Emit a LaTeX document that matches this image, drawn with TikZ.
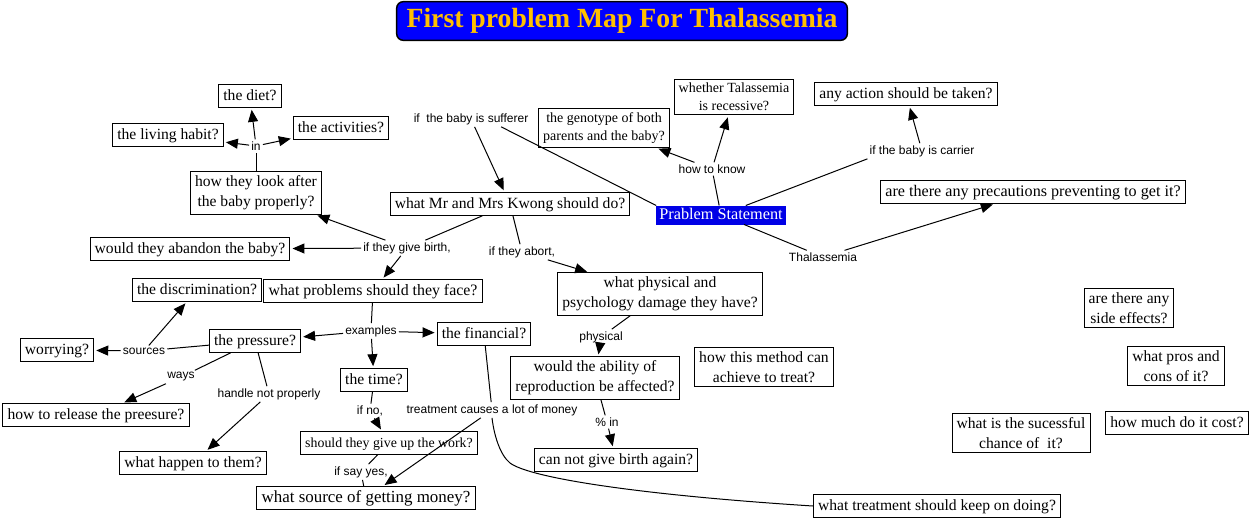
\documentclass[tikz,border=0pt]{standalone}
\usepackage{fontspec}
\setmainfont{Liberation Serif}
\newfontfamily\lblfont{Liberation Sans}
\usetikzlibrary{arrows.meta}
\definecolor{titlegold}{RGB}{255,192,0}
\definecolor{titleblue}{RGB}{0,0,255}
\definecolor{probblue}{RGB}{0,0,230}
\begin{document}
\begin{tikzpicture}[x=0.75pt,y=-0.75pt,
  concept/.style={draw=black, line width=0.75pt, fill=white, inner xsep=3.5pt, inner ysep=2.5pt,
    text height=9pt, text depth=3pt, font=\fontsize{11.7}{14}\selectfont},
  multi/.style={draw=black, line width=0.75pt, fill=white, inner xsep=3.5pt, inner ysep=3pt,
    align=center, font=\fontsize{11.7}{15}\selectfont},
  smallmulti/.style={multi, font=\fontsize{10.5}{13.5}\selectfont},
  phrase/.style={inner sep=1.5pt, font=\lblfont\fontsize{9}{10}\selectfont},
  link/.style={line width=0.75pt},
  arr/.style={line width=0.75pt, -{Triangle[length=9pt,width=7.5pt]}, shorten >=1.5pt},
]
\useasboundingbox (0,0) rectangle (1252,521);

% title
\node[draw=black, line width=1.1pt, fill=titleblue, rounded corners=5pt,
  minimum width=338pt, minimum height=29pt, text=titlegold,
  font=\bfseries\fontsize{20.8}{24}\selectfont] (title) at (622,21) {First problem Map For Thalassemia};

% concepts
\node[concept] (diet) at (250,96) {the diet?};
\node[concept] (living) at (168,135) {the living habit?};
\node[concept] (activities) at (341,128) {the activities?};
\node[multi] (lookafter) at (256,193) {how they look after\\ the baby properly?};
\node[concept] (kwong) at (510,204) {what Mr and Mrs Kwong should do?};
\node[smallmulti] (genotype) at (604,128) {the genotype of both\\parents and the baby?};
\node[smallmulti] (whether) at (734,97) {whether Talassemia\\is recessive?};
\node[concept] (anyaction) at (906,94) {any action should be taken?};
\node[concept, fill=probblue, draw=probblue, text=white, inner xsep=2pt, inner ysep=0.75pt,
  font=\fontsize{12.2}{14}\selectfont] (problem) at (721,215) {Prablem Statement};
\node[concept, font=\fontsize{12.1}{14}\selectfont] (precautions) at (1033,192) {are there any precautions preventing to get it?};
\node[concept] (abandon) at (190,249) {would they abandon the baby?};
\node[concept] (discrim) at (197,290) {the discrimination?};
\node[concept, font=\fontsize{11.9}{14}\selectfont] (problems) at (373,291) {what problems should they face?};
\node[multi] (damage) at (660,294) {what physical and\\ psychology damage they have?};
\node[concept] (pressure) at (255,341) {the pressure?};
\node[concept] (worrying) at (57,350) {worrying?};
\node[concept] (financial) at (484,334) {the financial?};
\node[multi] (ability) at (595,378) {would the ability of\\reproduction be affected?};
\node[multi] (method) at (764,367) {how this method can\\achieve to treat?};
\node[concept] (time) at (374,380) {the time?};
\node[concept] (release) at (96,415) {how to release the preesure?};
\node[concept] (happen) at (193,463) {what happen to them?};
\node[concept, font=\fontsize{10.4}{13}\selectfont] (giveup) at (389,443) {should they give up the work?};
\node[concept] (cannot) at (616,460) {can not give birth again?};
\node[concept, font=\fontsize{12.7}{15}\selectfont] (source) at (366,498) {what source of getting money?};
\node[concept] (keep) at (937,506) {what treatment should keep on doing?};
\node[multi] (side) at (1129,308) {are there any\\side effects?};
\node[multi] (pros) at (1176,366) {what pros and\\cons of it?};
\node[multi] (success) at (1021,433) {what is the sucessful\\chance of \ it?};
\node[concept] (cost) at (1177,423) {how much do it cost?};

% linking phrases
\node[phrase] (in) at (256,146) {in};
\node[phrase] (sufferer) at (471,119) {if \ the baby is sufferer};
\node[phrase] (howtoknow) at (712,169) {how to know};
\node[phrase] (carrier) at (922,151) {if the baby is carrier};
\node[phrase] (thal) at (823,257) {Thalassemia};
\node[phrase] (givebirth) at (407,248) {if they give birth,};
\node[phrase] (abort) at (522,252) {if they abort,};
\node[phrase] (examples) at (371,331) {examples};
\node[phrase] (sources) at (144,351) {sources};
\node[phrase] (ways) at (181,377) {ways};
\node[phrase] (handle) at (269,394) {handle not properly};
\node[phrase] (physical) at (601,337) {physical};
\node[phrase] (ifno) at (370,411) {if no,};
\node[phrase] (tcost) at (492,410) {treatment causes a lot of money};
\node[phrase] (pct) at (607,422) {\% in};
\node[phrase] (sayyes) at (361,472) {if say yes,};

% connectors
\draw[link] (lookafter) -- (in);
\draw[arr] (in) -- (diet);
\draw[arr] (in) -- (living);
\draw[arr] (in) -- (activities);

\draw[link] (problem.north west) -- ([xshift=-22pt]sufferer.south east);
\draw[arr] (sufferer) -- (kwong);

\draw[link] (kwong) -- (givebirth);
\draw[arr] (givebirth) -- (lookafter);
\draw[arr] (givebirth) -- (abandon);
\draw[arr] (givebirth) -- (problems);

\draw[link] (kwong) -- (abort);
\draw[arr] (abort) -- (damage);

\draw[link] (problem) -- (howtoknow);
\draw[arr] (howtoknow) -- (genotype);
\draw[arr] (howtoknow) -- (whether);

\draw[link] (problem) -- (carrier.south west);
\draw[arr] (carrier) -- (anyaction);

\draw[link] (problem) -- (thal);
\draw[arr] (thal) -- (precautions);

\draw[link] (problems) -- (examples);
\draw[arr] (examples) -- (pressure);
\draw[arr] (examples) -- (financial);
\draw[arr] (examples) -- (time);

\draw[link] (pressure) -- (sources);
\draw[arr] (sources) -- (worrying);
\draw[arr] (sources) -- (discrim);
\draw[link] (pressure) -- (ways);
\draw[arr] (ways) -- (release);
\draw[link] (pressure) -- (handle);
\draw[arr] (handle) -- (happen);

\draw[link] (time) -- (ifno);
\draw[arr] (ifno) -- (giveup);
\draw[link] (giveup) -- (sayyes);
\draw[link] (sayyes) -- (source);

\draw[link] (financial) -- (tcost);
\draw[arr] (tcost) -- (source);
\draw[link] (keep.west) .. controls (640,495) and (530,478) .. (510,463)
  .. controls (500,455) and (494,435) .. (tcost.south);

\draw[link] (damage) -- (physical);
\draw[arr] (physical) -- (ability);
\draw[link] (ability) -- (pct);
\draw[arr] (pct) -- (cannot);
\end{tikzpicture}
\end{document}
